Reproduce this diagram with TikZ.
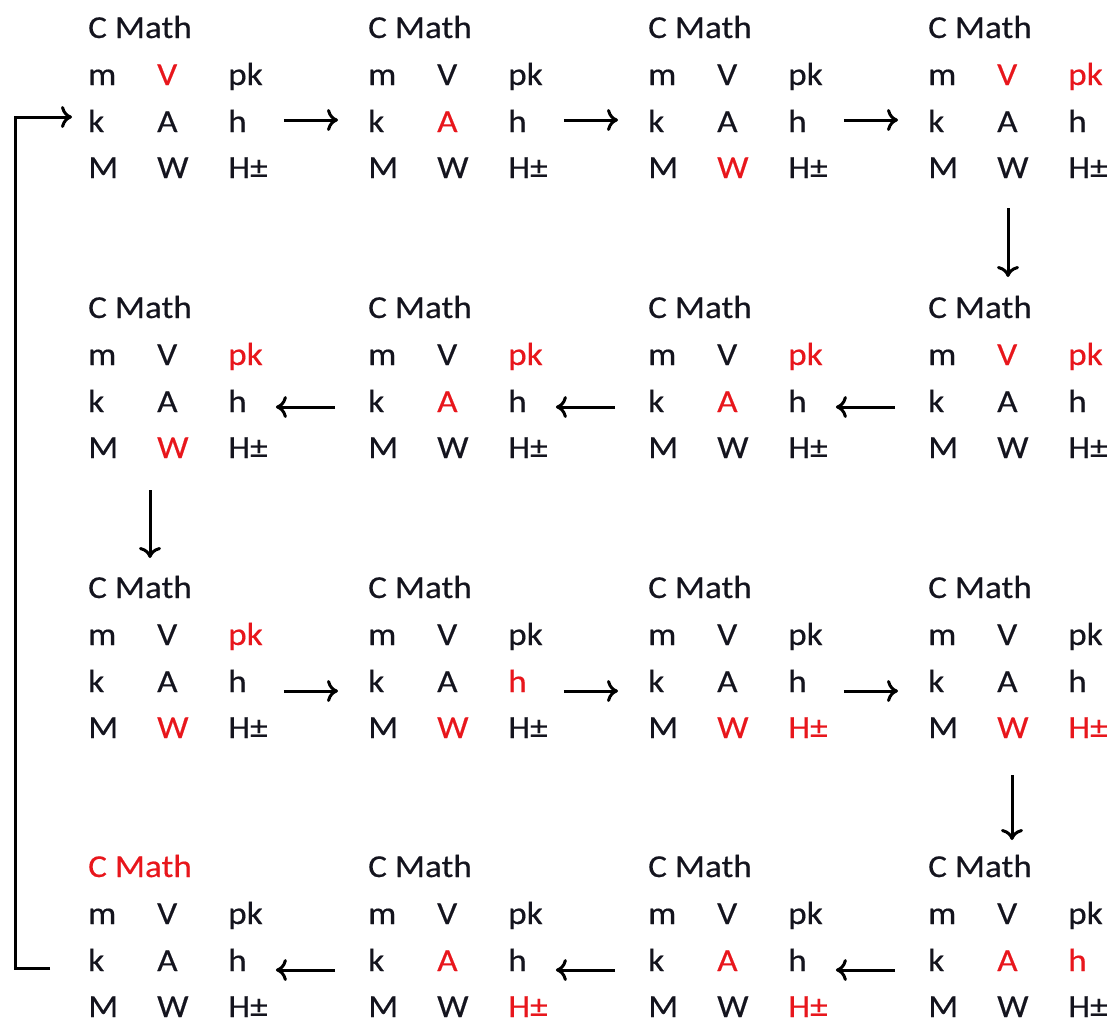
\documentclass[tikz,border=0pt]{standalone}
\usepackage{fontspec}
\setmainfont{Carlito}[FakeStretch=1.1,FakeBold=0.4]
\usetikzlibrary{arrows.meta}
\definecolor{hlred}{RGB}{232,22,28}
\definecolor{ink}{RGB}{20,20,30}
\newcommand\mblock[3]{%
  \node[cell,#1C/.try] (#1C) at (#2,#3+40) {C Math};
  \node[cell,#1m/.try] (#1m) at (#2,#3+87) {m};
  \node[cell,#1V/.try] (#1V) at (#2+69,#3+87) {V};
  \node[cell,#1p/.try] (#1p) at (#2+140,#3+87) {pk};
  \node[cell,#1k/.try] (#1k) at (#2,#3+134) {k};
  \node[cell,#1A/.try] (#1A) at (#2+69,#3+134) {A};
  \node[cell,#1h/.try] (#1h) at (#2+140,#3+134) {h};
  \node[cell,#1M/.try] (#1M) at (#2,#3+180) {M};
  \node[cell,#1W/.try] (#1W) at (#2+69,#3+180) {W};
  \node[cell,#1H/.try] (#1H) at (#2+140,#3+180) {H±};
}
\begin{document}
\begin{tikzpicture}[x=1pt,y=-1pt,
  cell/.style={anchor=base west,inner sep=0pt,text depth=0pt,text=ink,font=\fontsize{32}{32}\selectfont},
  hl/.style={text=hlred},
  arr/.style={draw=black,line width=3pt,-{To[length=11pt,width=22pt]}},
  b11V/.style={hl}, b12A/.style={hl}, b13W/.style={hl}, b14V/.style={hl}, b14p/.style={hl},
  b21p/.style={hl}, b21W/.style={hl}, b22p/.style={hl}, b22A/.style={hl},
  b23p/.style={hl}, b23A/.style={hl}, b24V/.style={hl}, b24p/.style={hl},
  b31p/.style={hl}, b31W/.style={hl}, b32h/.style={hl}, b32W/.style={hl},
  b33W/.style={hl}, b33H/.style={hl}, b34W/.style={hl}, b34H/.style={hl},
  b41C/.style={hl}, b42A/.style={hl}, b42H/.style={hl},
  b43A/.style={hl}, b43H/.style={hl}, b44A/.style={hl}, b44h/.style={hl}]
\useasboundingbox[fill=white] (0,0) rectangle (1110,1021);
\mblock{b11}{88}{-2}\mblock{b12}{368}{-2}\mblock{b13}{648}{-2}\mblock{b14}{928}{-2}
\mblock{b21}{88}{278}\mblock{b22}{368}{278}\mblock{b23}{648}{278}\mblock{b24}{928}{278}
\mblock{b31}{88}{558}\mblock{b32}{368}{558}\mblock{b33}{648}{558}\mblock{b34}{928}{558}
\mblock{b41}{88}{837}\mblock{b42}{368}{837}\mblock{b43}{648}{837}\mblock{b44}{928}{837}
% row 1, rightwards
\draw[arr] ([shift={(37,-12)}]b11h.base east) -- ([shift={(-30,-12)}]b12k.base west);
\draw[arr] ([shift={(37,-12)}]b12h.base east) -- ([shift={(-30,-12)}]b13k.base west);
\draw[arr] ([shift={(37,-12)}]b13h.base east) -- ([shift={(-30,-12)}]b14k.base west);
% down to row 2
\draw[arr] ([shift={(11,30)}]b14W.base west) -- ([shift={(80,-41)}]b24C.base west);
% row 2, leftwards
\draw[arr] ([shift={(-33,-5)}]b24k.base west) -- ([shift={(29,-5)}]b23h.base east);
\draw[arr] ([shift={(-33,-5)}]b23k.base west) -- ([shift={(29,-5)}]b22h.base east);
\draw[arr] ([shift={(-33,-5)}]b22k.base west) -- ([shift={(29,-5)}]b21h.base east);
% down to row 3
\draw[arr] ([shift={(-7,32)}]b21W.base west) -- ([shift={(62,-40)}]b31C.base west);
% row 3, rightwards
\draw[arr] ([shift={(37,-1)}]b31h.base east) -- ([shift={(-30,-1)}]b32k.base west);
\draw[arr] ([shift={(37,-1)}]b32h.base east) -- ([shift={(-30,-1)}]b33k.base west);
\draw[arr] ([shift={(37,-1)}]b33h.base east) -- ([shift={(-30,-1)}]b34k.base west);
% down to row 4
\draw[arr] ([shift={(15,37)}]b34W.base west) -- ([shift={(84,-37)}]b44C.base west);
% row 4, leftwards
\draw[arr] ([shift={(-33,-1)}]b44k.base west) -- ([shift={(29,-1)}]b43h.base east);
\draw[arr] ([shift={(-33,-1)}]b43k.base west) -- ([shift={(29,-1)}]b42h.base east);
\draw[arr] ([shift={(-33,-1)}]b42k.base west) -- ([shift={(29,-1)}]b41h.base east);
% loop back
\draw[arr] ([shift={(-38,-3)}]b41k.base west) -| ([shift={(-73,-15)}]b11k.base west)
  -- ([shift={(-16,-15)}]b11k.base west);
\end{tikzpicture}
\end{document}
